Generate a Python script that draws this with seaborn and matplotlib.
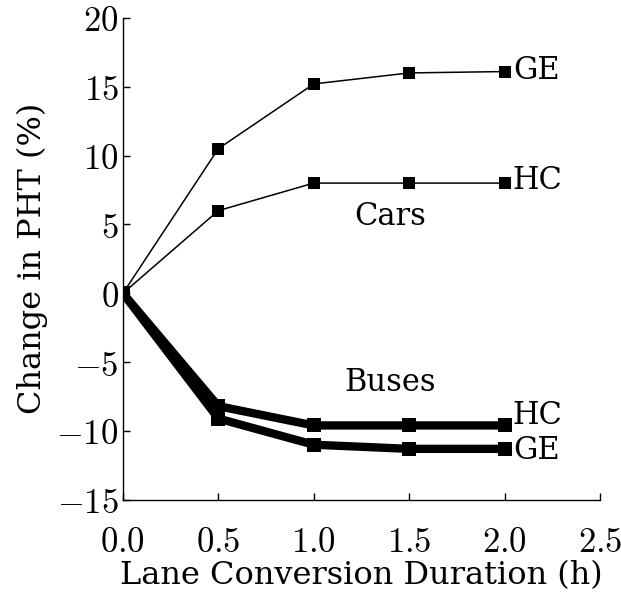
import matplotlib
matplotlib.use("Agg")
import matplotlib.pyplot as plt
from matplotlib.ticker import FuncFormatter, MultipleLocator
import seaborn as sns
import pandas as pd

durations = [0.0, 0.5, 1.0, 1.5, 2.0]
cars_ge = [0.0, 10.5, 15.2, 16.0, 16.1]
cars_hc = [0.0, 6.0, 8.0, 8.0, 8.0]
buses_hc = [0.0, -8.2, -9.6, -9.6, -9.6]
buses_ge = [0.0, -9.1, -11.0, -11.3, -11.3]

series = {
    ("Cars", "GE"): cars_ge,
    ("Cars", "HC"): cars_hc,
    ("Buses", "HC"): buses_hc,
    ("Buses", "GE"): buses_ge,
}
# vertical nudge (points) of each end label
label_nudge = {"Cars-GE": 1, "Cars-HC": 2, "Buses-HC": 7, "Buses-GE": -1}

rows = []
for (mode, scheme), vals in series.items():
    for d, v in zip(durations, vals):
        rows.append({"mode": mode, "scheme": scheme, "duration": d, "change": v,
                     "key": f"{mode}-{scheme}"})
df = pd.DataFrame(rows)

sns.set_style("ticks")
plt.rcParams["font.family"] = ["DejaVu Serif"]
plt.rcParams["mathtext.fontset"] = "cm"
plt.rcParams["text.color"] = "black"
plt.rcParams["axes.labelcolor"] = "black"

fig = plt.figure(figsize=(6.21, 5.95), dpi=100)
ax = fig.add_axes([0.198, 0.160, 0.768, 0.810])

for key, sub in df.groupby("key", sort=False):
    mode = sub["mode"].iloc[0]
    thick = mode == "Buses"
    sns.lineplot(data=sub, x="duration", y="change", ax=ax, color="black",
                 lw=6.0 if thick else 1.1, marker="s",
                 markersize=10 if thick else 9, markeredgewidth=0,
                 markerfacecolor="black", legend=False, estimator=None)
    last_x = sub["duration"].iloc[-1]
    last_y = sub["change"].iloc[-1]
    ax.annotate(sub["scheme"].iloc[0], (last_x, last_y),
                xytext=(6, label_nudge[key]),
                textcoords="offset points", ha="left", va="center",
                fontsize=22, color="black")

ax.text(1.4, 5.6, "Cars", ha="center", va="center", fontsize=22)
ax.text(1.4, -6.5, "Buses", ha="center", va="center", fontsize=22)

ax.set_xlim(0, 2.5)
ax.set_ylim(-15, 20)
ax.xaxis.set_major_locator(MultipleLocator(0.5))
ax.yaxis.set_major_locator(MultipleLocator(5))
ax.xaxis.set_major_formatter(FuncFormatter(lambda v, p: f"${v:.1f}$"))
ax.yaxis.set_major_formatter(FuncFormatter(lambda v, p: f"${int(round(v))}$"))
ax.tick_params(direction="in", length=5, width=1, labelsize=25, colors="black")
ax.tick_params(axis="x", pad=18)
ax.tick_params(axis="y", pad=3)
for s in ["left", "bottom"]:
    ax.spines[s].set_linewidth(1.0)
    ax.spines[s].set_color("black")
sns.despine(ax=ax)

ax.set_xlabel("Lane Conversion Duration (h)", fontsize=23, labelpad=1)
ax.set_ylabel("Change in PHT (%)", fontsize=23, labelpad=6)

fig.savefig("out.png", dpi=100)
